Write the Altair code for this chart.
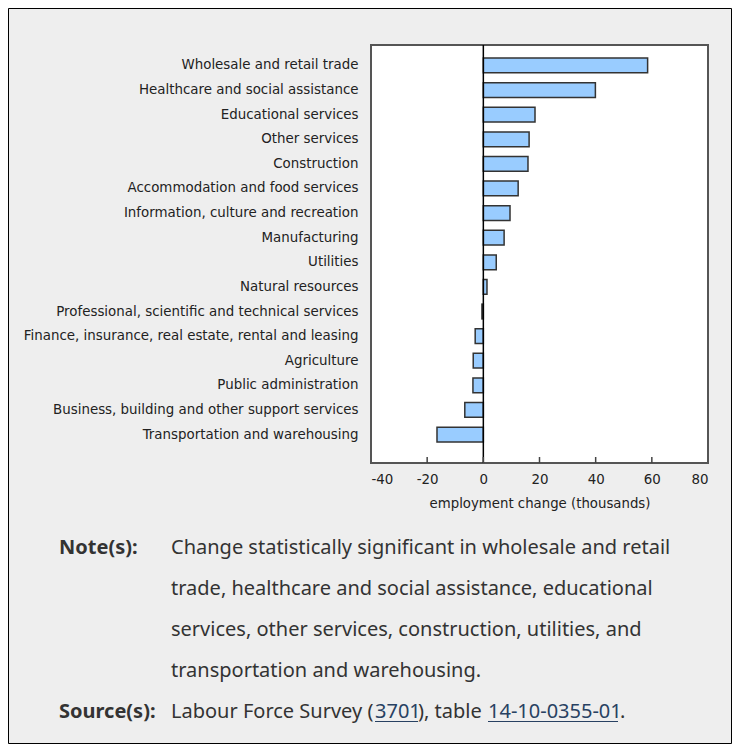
import altair as alt
import pandas as pd

industries = [
    "Wholesale and retail trade",
    "Healthcare and social assistance",
    "Educational services",
    "Other services",
    "Construction",
    "Accommodation and food services",
    "Information, culture and recreation",
    "Manufacturing",
    "Utilities",
    "Natural resources",
    "Professional, scientific and technical services",
    "Finance, insurance, real estate, rental and leasing",
    "Agriculture",
    "Public administration",
    "Business, building and other support services",
    "Transportation and warehousing",
]
changes = [58.5, 39.9, 18.4, 16.3, 15.9, 12.4, 9.5, 7.4, 4.6, 1.3, -0.5, -2.9, -3.6, -3.7, -6.6, -16.5]
tick_values = [-40, -20, 0, 20, 40, 60, 80]
inner_ticks = [-20, 0, 20, 40, 60]

note_label = "Note(s):"
note_lines = [
    "Change statistically significant in wholesale and retail",
    "trade, healthcare and social assistance, educational",
    "services, other services, construction, utilities, and",
    "transportation and warehousing.",
]
source_label = "Source(s):"
source_parts = ["Labour Force Survey (", "3701", "), table ", "14-10-0355-01", "."]

W, H = 337, 418
LBL_FONT = "DejaVu Sans"
NOTE_FONT = "Noto Sans"
LBL_SIZE = 13.4

xscale = alt.Scale(domain=[-40, 80], nice=False, zero=False)
df = pd.DataFrame({"industry": industries, "change": changes})

bars = alt.Chart(df).mark_bar(
    color="#99ccff", stroke="#333333", strokeWidth=1.5
).encode(
    x=alt.X("change:Q", scale=xscale,
            axis=alt.Axis(values=tick_values, ticks=False, domain=False, grid=False,
                          labelExpr="'' + datum.value",
                          labelFontSize=LBL_SIZE, labelFont=LBL_FONT, labelColor="#222222",
                          labelPadding=9, title="employment change (thousands)",
                          titleFont=LBL_FONT, titleFontSize=13.3, titleFontWeight="normal",
                          titleColor="#222222", titlePadding=11)),
    y=alt.Y("industry:N", sort=industries,
            scale=alt.Scale(paddingInner=0.4, paddingOuter=0.695, align=0.383),
            axis=alt.Axis(title=None, ticks=False, domain=False, labelFontSize=LBL_SIZE,
                          labelFont=LBL_FONT, labelColor="#222222", labelPadding=13,
                          labelLimit=400)),
)

zero = alt.Chart(pd.DataFrame({"z": [0]})).mark_rule(color="black", strokeWidth=1.5).encode(
    x=alt.X("z:Q", scale=xscale), y=alt.value(0), y2=alt.value(H)
)

ticks = alt.Chart(pd.DataFrame({"t": inner_ticks})).mark_rule(color="#444444", strokeWidth=1.5).encode(
    x=alt.X("t:Q", scale=xscale), y=alt.value(H - 6), y2=alt.value(H)
)

one = pd.DataFrame({"a": [0]})
border = alt.Chart(one).mark_rect(fillOpacity=0, stroke="black", strokeWidth=1).encode(
    x=alt.value(-362.5), x2=alt.value(360.5), y=alt.value(-36.5), y2=alt.value(698.5)
)


def txt(s, x, y, bold=False, color="#333333", size=20):
    return alt.Chart(pd.DataFrame({"t": [s]})).mark_text(
        align="left", baseline="middle", font=NOTE_FONT, fontSize=size,
        fontWeight="bold" if bold else "normal", color=color
    ).encode(x=alt.value(x), y=alt.value(y), text="t:N")


layers = [border, bars, zero, ticks]
NX = -200
layers.append(txt(note_label, -312, 503, bold=True))
for i, line in enumerate(note_lines):
    layers.append(txt(line, NX, 503 + 41 * i))
layers.append(txt(source_label, -312, 667, bold=True))

# source parts, x positions of segments measured on the reference
seg_x = [-200, 4, 47, 117, 249]
link_color = "#284162"
for i, (part, sx) in enumerate(zip(source_parts, seg_x)):
    is_link = i in (1, 3)
    layers.append(txt(part, sx, 667, color=link_color if is_link else "#333333"))
# underlines for links
link_spans = [(4, 47), (117, 247)]
for a, b in link_spans:
    layers.append(alt.Chart(one).mark_rule(color=link_color, strokeWidth=1).encode(
        x=alt.value(a), x2=alt.value(b), y=alt.value(676.5), y2=alt.value(676.5)))

chart = alt.layer(*layers).properties(
    width=W, height=H,
    autosize=alt.AutoSizeParams(type="none"),
    padding={"left": 363, "top": 37, "right": 24, "bottom": 281},
).configure(background="#eeeeee").configure_view(
    fill="white", stroke="#555555", strokeWidth=2
)

chart.save("out.html", embed_options={"renderer": "svg", "actions": False})
